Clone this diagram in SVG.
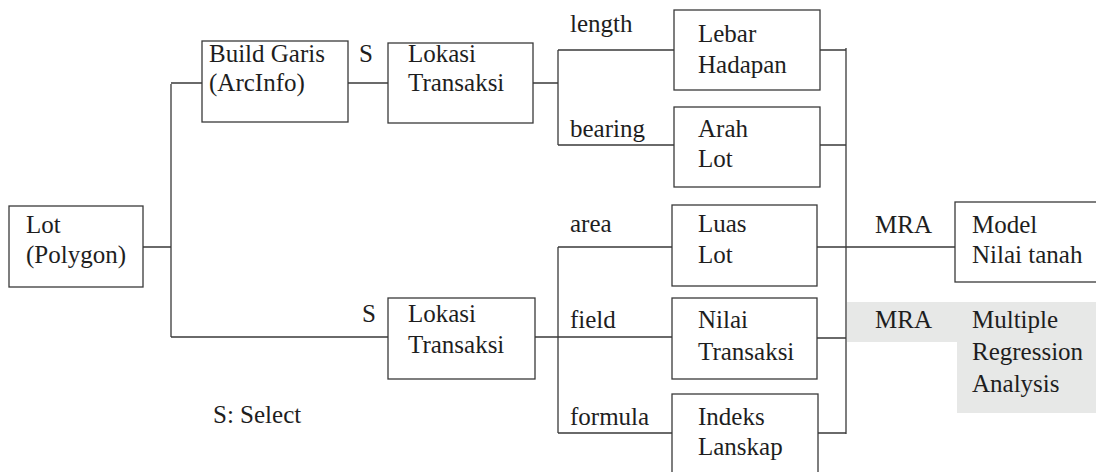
<svg xmlns="http://www.w3.org/2000/svg" width="1096" height="472" viewBox="0 0 1096 472">
  <style>
    .box { fill: #ffffff; stroke: #3a3a3a; stroke-width: 1.3; }
    .wire { fill: none; stroke: #3a3a3a; stroke-width: 1.3; }
    .t { font-family: "Liberation Serif", "Times New Roman", serif; font-size: 25px; fill: #1e1e1e; }
  </style>
  <rect width="1096" height="472" fill="#ffffff"/>

  <!-- shaded legend band -->
  <polygon points="847,302 1096,302 1096,413 957,413 957,342 847,342" fill="#e7e8e7"/>

  <g id="connectors">
    <!-- Lot to both branches -->
    <path class="wire" d="M143,247 H171 M171,84 V337 M171,83 H202 M171,337 H388"/>
    <!-- Build Garis to Lokasi (upper) -->
    <path class="wire" d="M348,83 H388"/>
    <!-- upper Lokasi fan-out -->
    <path class="wire" d="M533,83 H558 M558,50 V145 M558,50 H674 M558,145 H674"/>
    <!-- lower Lokasi fan-out -->
    <path class="wire" d="M535,337 H672 M558,247 V433 M558,247 H672 M558,433 H672"/>
    <!-- collector bus -->
    <path class="wire" d="M820,50 H846 M820,145 H846 M817,247 H955 M817,338 H846 M818,433 H846 M846,48 V434"/>
  </g>

  <g class="t">
    <g id="lot">
      <rect class="box" x="9" y="206" width="134" height="81"/>
      <text x="26" y="233">Lot</text>
      <text x="26" y="263">(Polygon)</text>
    </g>

    <g id="build-garis">
      <rect class="box" x="202" y="41" width="146" height="81"/>
      <text x="209" y="62">Build Garis</text>
      <text x="209" y="91">(ArcInfo)</text>
    </g>
    <text x="359" y="62">S</text>

    <g id="lokasi-atas">
      <rect class="box" x="388" y="43" width="145" height="80"/>
      <text x="408" y="62">Lokasi</text>
      <text x="408" y="91">Transaksi</text>
    </g>

    <g id="lokasi-bawah">
      <rect class="box" x="388" y="298" width="147" height="81"/>
      <text x="408" y="322">Lokasi</text>
      <text x="408" y="353">Transaksi</text>
    </g>
    <text x="362" y="322">S</text>

    <!-- branch labels -->
    <text x="570" y="32">length</text>
    <text x="570" y="137">bearing</text>
    <text x="570" y="232">area</text>
    <text x="570" y="328">field</text>
    <text x="570" y="425">formula</text>

    <g id="lebar-hadapan">
      <rect class="box" x="674" y="10" width="146" height="80"/>
      <text x="698" y="42">Lebar</text>
      <text x="698" y="73">Hadapan</text>
    </g>

    <g id="arah-lot">
      <rect class="box" x="674" y="107" width="146" height="80"/>
      <text x="698" y="137">Arah</text>
      <text x="698" y="167">Lot</text>
    </g>

    <g id="luas-lot">
      <rect class="box" x="672" y="205" width="145" height="81"/>
      <text x="698" y="232">Luas</text>
      <text x="698" y="263">Lot</text>
    </g>

    <g id="nilai-transaksi">
      <rect class="box" x="672" y="298" width="145" height="81"/>
      <text x="698" y="328">Nilai</text>
      <text x="698" y="360">Transaksi</text>
    </g>

    <g id="indeks-lanskap">
      <rect class="box" x="672" y="394" width="146" height="90"/>
      <text x="698" y="425">Indeks</text>
      <text x="698" y="455">Lanskap</text>
    </g>

    <g id="model">
      <rect class="box" x="955" y="202" width="150" height="80"/>
      <text x="972" y="233">Model</text>
      <text x="972" y="263">Nilai tanah</text>
    </g>
    <text x="875" y="233">MRA</text>

    <g id="legend">
      <text x="875" y="328">MRA</text>
      <text x="972" y="328">Multiple</text>
      <text x="972" y="360">Regression</text>
      <text x="972" y="392">Analysis</text>
      <text x="213" y="423">S: Select</text>
    </g>
  </g>
</svg>
